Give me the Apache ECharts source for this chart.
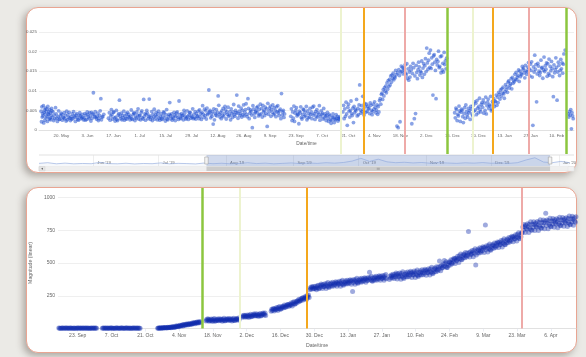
<!DOCTYPE html>
<html>
<head>
<meta charset="utf-8">
<script src="https://cdn.jsdelivr.net/npm/echarts@6/dist/echarts.min.js"></script>
<style>
  html, body { margin: 0; padding: 0; width: 586px; height: 357px; overflow: hidden; background: #ebeae6; }
  .card { position: absolute; left: 26px; width: 551px; height: 166px; box-sizing: border-box;
          background: #fff; border: 1.5px solid #e9a592; border-radius: 12px;
          box-shadow: -3px 3px 7px rgba(60, 50, 40, 0.35); }
  #chart { position: absolute; left: 0; top: 0; width: 586px; height: 357px; }
</style>
</head>
<body>
<div class="card" style="top:7px"></div>
<div class="card" style="top:187px"></div>
<div id="chart"></div>
<script>
const DAY = 86400000;
const MON = ["Jan", "Feb", "Mar", "Apr", "May", "Jun", "Jul", "Aug", "Sep", "Oct", "Nov", "Dec"];
const ts = (s) => Date.parse(s + (s.length === 10 ? "T00:00:00Z" : "Z"));

// ---- top panel: readings per day (x 0.001), each month array starts on the given day
const topMay = [ // from 9 May 2019
  [4.8,2.1,5.9,3.3,4.2],[3.6,6.2,1.8,4.5,5.1],[2.5,4.0,5.6,3.1,4.7],[5.3,3.4,2.2,6.0,4.1],[3.9,4.6,2.8,5.2,3.0],[4.4,2.6,3.7,5.5,4.9],
  [3.2,4.6,2.4],[3.8,2.9,5.7],[4.1,3.0,2.2],[3.5,4.9,2.7],[2.8,3.6,4.3],[4.0,2.5,3.3],[3.1,4.4,2.9],[3.7,2.3,4.8],[2.6,3.9,3.2],
  [4.5,3.0,2.4],[3.4,2.8,4.1],[2.9,4.7,3.6],[3.3,2.2,3.8],[4.2,3.1,2.7],[2.5,3.7,4.4],[3.6,2.9,3.1],[4.0,3.3,2.6]
];
const topJun = [
  [3.1,4.2,2.5],[3.8,2.7,4.6],[3.9,3.3,2.9],[4.4,3.6,2.3],[4.5,3.0,4.1],[9.5,3.9,3.4],[4.7,3.2,2.8],[3.5,4.3,2.4],[2.9,3.7,4.9],[8.0,2.6,3.3],
  [3.4,4.0],[],[],[3.0,4.4],[2.5,3.6,5.2],[3.9,2.8,4.5],[4.6,3.1,2.3],[3.3,5.0,2.7],[2.4,3.8,4.2],[7.6,3.5,2.9],
  [4.3,2.6,3.7],[3.1,4.8,2.5],[3.6,2.9,4.1],[2.8,4.5,3.4],[4.0,3.2,2.6],[3.5,5.1,2.9],[2.7,3.9,4.4],[4.2,2.4,3.3],[3.0,4.6,3.8],[5.4,2.8,3.6]
];
const topJul = [
  [3.7,2.6,4.4],[4.9,3.1,2.8],[7.8,3.5,4.2],[2.5,3.9,5.0],[4.3,2.9,3.4],[7.9,3.6,2.7],[3.2,4.7,2.4],[4.0,3.3,5.3],[2.8,3.8,4.5],[3.5,2.6,4.1],
  [4.8,3.0,2.5],[3.4,4.2,2.9],[2.7,3.6,4.6],[4.4,3.1,2.3],[3.9,5.2,2.8],[2.6,3.4,4.0],[7.0,3.7,2.9],[4.1,2.5,3.3],[3.0,4.5,3.8],[2.4,3.5,4.3],
  [4.6,3.2,2.7],[7.4,3.9,3.1],[2.9,4.2,3.6],[3.7,2.6,5.0],[4.3,3.4,2.8],[3.1,4.9,3.5],[2.7,3.8,4.4],[4.5,3.0,3.6],[3.3,5.4,2.9],[4.0,3.1,4.7],[2.8,4.2,3.5]
];
const topAug = [
  [3.6,4.8,2.9],[5.1,3.4,4.2],[2.7,4.5,6.2],[4.0,3.2,5.3],[3.7,4.9,2.8],[5.6,3.9,4.3],[10.2,4.6,5.0],[3.1,4.1,3.5],[4.7,1.5,5.4],[2.6,4.3,3.8],
  [5.2,3.6,4.5],[8.7,6.3,4.0],[3.3,4.4,2.9],[4.9,3.7,5.5],[3.4,4.2,6.0],[5.1,2.8,4.6],[4.0,5.8,3.5],[3.8,4.7,2.6],[5.4,4.1,3.2],[4.6,6.5,3.9],
  [3.5,5.0,4.4],[8.9,4.3,3.0],[6.1,4.8,3.7],[4.2,5.6,3.3],[5.0,3.9,6.4],[3.6,4.5,5.2],[6.7,4.0,3.4],[8.0,5.5,2.9],[4.3,5.1,4.7],[3.8,0.6,6.2],[5.3,4.1,3.2]
];
const topSep = [
  [4.6,4.9,5.7],[4.4,6.0,3.6],[5.2,3.9,6.6],[4.1,5.5,3.3],[6.3,4.6,5.0],[3.7,5.8,4.3],[5.4,0.9,6.8],[4.0,4.8,5.6],[6.1,3.5,5.2],[4.5,6.4,3.9],
  [5.7,4.2,5.0],[3.4,5.9,4.7],[6.2,4.4,3.7],[4.9,5.3,2.9],[9.3,3.8,4.6],[5.0,3.2,4.1],[],[],[],[3.5,5.4,2.4],
  [4.6,3.0,6.1],[2.2,4.3,5.0],[5.7,3.6,4.1],[3.9,1.6,4.8],[4.4,5.9,3.2],[2.8,4.0,5.3],[5.1,3.4,4.5],[3.7,6.0,2.6],[4.9,3.1,4.2],[3.3,5.5,4.0]
];
const topOct = [
  [4.6,2.9,5.8],[3.8,6.1,4.2],[2.7,4.7,3.5],[5.2,3.3,4.4],[4.0,6.2,2.5],[3.4,4.9,3.9],[4.3,2.8,5.5],[3.1,4.1,3.6],[2.4,3.7,4.5],[3.0,2.2,4.0],
  [3.6,2.6,1.7],[2.5,3.3,4.1],[3.2,1.9,2.8],[2.6,3.9,3.0],[3.5,2.3,2.9],[2.7,3.4,3.1],[],[4.6,6.3,2.9],[5.4,3.5,7.1],[4.1,1.2,5.8],
  [6.6,4.8,3.3],[5.0,7.4,4.2],[3.7,5.6,1.9],[6.0,4.4,5.2],[4.9,7.8,3.6],[5.5,3.9,6.4],[11.5,5.1,4.3],[6.2,4.7,8.6],[5.3,3.8,6.8],[5.9,4.5,6.6],[4.8,6.1,5.4]
];
const topNov = [
  [5.6,4.2,6.9],[6.3,5.0,3.9],[4.7,6.6,5.3],[7.2,5.8,4.4],[5.1,6.4,4.0],[6.0,4.6,7.5],[8.0,6.6,9.1],[9.4,7.8,10.3],[8.7,10.8,9.9],[11.2,9.5,12.0],
  [10.4,12.6,11.1],[12.9,11.5,13.8],[12.2,14.0,13.1],[14.5,12.8,13.6],[13.3,15.2,14.1],[1.0,14.6,0.6],[15.4,13.9,2.1],[14.8,16.3,15.0],[16.0,14.3,15.7],[15.2,16.6,14.5],
  [14.1,16.9,13.2],[15.6,12.7,14.8],[13.5,16.2,15.3],[1.6,14.4,17.0],[15.9,2.9,13.8],[4.2,16.5,14.7],[13.1,15.4,17.3],[16.1,14.0,15.0],[14.6,17.6,13.4],[15.8,16.9,14.2]
];
const topDec = [
  [16.4,18.2,14.9],[20.9,17.1,15.5],[17.8,19.6,16.0],[20.4,15.7,18.4],[16.8,8.9,18.9],[19.2,17.3,15.2],[8.0,18.0,16.6],[17.5,20.1,15.9],[16.2,18.7,14.6],[18.9,15.3,17.0],
  [14.8,19.8,16.7],[17.6,15.6,18.3],[],[],[],[],[4.4,3.1,5.6],[5.2,2.4,4.0],[3.6,6.1,4.8],[2.2,4.5,5.3],
  [5.0,3.4,1.9],[4.2,5.7,3.0],[6.4,4.7,3.9],[3.3,5.5,4.4],[4.9,2.7,6.0],[5.4,4.1,3.6],[6.3,4.8,7.2],[5.1,6.8,3.9],[7.5,5.6,4.4],[6.0,8.1,5.2],[4.6,6.5,7.0]
];
const topJan = [
  [5.8,7.7,4.3],[6.9,5.0,8.4],[4.1,6.2,7.1],[7.9,5.5,6.4],[6.1,8.6,4.9],[5.3,7.3,6.7],[8.0,6.0,7.4],[7.2,8.9,6.3],[8.4,7.0,9.6],[9.1,7.9,10.2],
  [8.6,10.5,9.4],[10.9,9.2,8.1],[9.8,11.6,10.3],[11.0,9.6,12.2],[12.5,10.7,11.4],[11.8,13.1,10.5],[13.4,11.9,12.6],[12.3,14.2,13.0],[14.7,12.8,13.5],[13.9,15.3,12.4],
  [15.0,13.6,14.4],[14.1,16.2,15.4],[15.8,14.6,13.3],[16.5,15.1,14.2],[14.9,16.0,17.2],[15.6,13.8,16.8],[15.2,17.4,13.5],[1.2,16.1,14.8],[19.1,15.5,16.7],[7.2,14.3,17.0],[16.3,15.0,13.9]
];
const topFeb = [
  [14.7,17.8,15.8],[16.0,13.2,15.3],[18.6,14.9,16.4],[15.5,17.1,13.7],[16.9,14.4,18.1],[14.0,16.2,15.1],[17.5,15.7,13.6],[8.5,16.6,14.6],[15.4,18.4,16.0],[7.6,14.8,17.3],
  [16.5,13.9,15.2],[18.0,15.6,17.1],[14.5,16.8,19.4],[20.4],[],[4.1,3.3,4.7],[3.8,5.2,0.3],[4.4,3.6,2.9]
];
const topBlocks = [
  ["2019-05-09", topMay], ["2019-06-01", topJun], ["2019-07-01", topJul], ["2019-08-01", topAug],
  ["2019-09-01", topSep], ["2019-10-01", topOct], ["2019-11-01", topNov], ["2019-12-01", topDec],
  ["2020-01-01", topJan], ["2020-02-01", topFeb]
];
const topTicks = ["2019-05-20","2019-06-03","2019-06-17","2019-07-01","2019-07-15","2019-07-29","2019-08-12",
  "2019-08-26","2019-09-09","2019-09-23","2019-10-07","2019-10-21","2019-11-04","2019-11-18","2019-12-02",
  "2019-12-16","2019-12-30","2020-01-13","2020-01-27","2020-02-10"];
const topRange = ["2019-05-07T23:00", "2020-02-19T06:00"];
const topLineDates = ["2019-10-17T00:00","2019-10-29T12:00","2019-11-20T08:00","2019-12-13T08:00",
  "2019-12-26T20:00","2020-01-06T20:00","2020-01-26T05:00","2020-02-14T20:00"];
const topLineKinds = ["light","orange","pink","green","light","orange","pink","green"];

// ---- navigator
const navStart = "2019-05-07";
const navVals = [0.24,0.3,0.2,0.26,0.2,0.23,0.21,0.33,0.22,0.2,
  0.25,0.19,0.23,0.21,0.28,0.2,0.24,0.22,0.19,0.27,
  0.21,0.25,0.2,0.23,0.3,0.22,0.26,0.2,0.24,0.28,
  0.22,0.27,0.24,0.3,0.26,0.32,0.45,0.7,0.42,0.62,
  0.38,0.3,0.34,0.28,0.32,0.25,0.3,0.27,0.24,0.29,
  0.26,0.31,0.25,0.28,0.24,0.3,0.55,0.75,0.36,0.3,
  0.42,0.3];
const navRange = ["2019-05-07", "2020-01-08"];
const navWindow = ["2019-07-23", "2019-12-28"];
const navMonths = ["2019-06-01","2019-07-01","2019-08-01","2019-09-01","2019-10-01","2019-11-01","2019-12-01","2020-01-01"];

// ---- bottom panel: readings per day (linear magnitude)
const botSep = [ // from 15 Sep 2019
  [3,1,2],[2,4,3],[1,2,3],[3,2,4],[2,1,3],[4,2,2],[1,3,2],[2,2,4],[3,1,3],[2,3,1],[4,2,3],[1,3,2],[3,2,1],[2,4,2],[3,1,4],[2,3,2]
];
const botOct = [
  [],[],[2,3,1],[3,2,4],[1,3,2],[2,4,3],[3,1,2],[2,2,4],[4,3,1],[1,2,3],[3,4,2],[2,1,3],[3,3,1],[2,4,2],[1,2,4],[3,2,3],[2,3,1],[4,1,2],
  [],[],[],[],[],[],[],[2,4,1,3],[3,5,2,4],[4,7,3,5],[5,8,4,6],[6,10,5,8],[8,12,6,10]
];
const botNov = [
  [9,15,12,7],[14,10,19,13],[16,21,13,18],[19,25,17,22],[22,28,20,30],[27,23,33,29],[30,36,27,33],[33,39,30,37],[37,32,43,39],[40,46,37,43],
  [43,49,40,47],[46,53,43,50],[],[],[58,69,62,74],[66,55,71,61],[60,73,64,54],[70,62,77,58],[57,68,61,72],[65,59,74,67],
  [61,72,66,56],[71,63,78,60],[59,70,64,75],[68,61,77,66],[63,74,67,58],[72,64,79,62],[61,73,68,77],[70,63,80,67],[],[85,97,90,102]
];
const botDec = [
  [96,86,101,92],[90,103,95,84],[101,93,108,89],[91,104,97,110],[103,95,112,99],[98,110,102,92],[108,99,115,96],[100,113,106,119],[111,103,118,100],[],
  [],[131,146,137,151],[149,134,153,143],[145,160,151,137],[162,151,167,147],[148,163,154,169],[168,158,179,165],[163,178,169,183],[182,167,186,176],[180,195,186,172],
  [200,189,205,185],[189,204,195,210],[212,202,223,209],[210,225,216,230],[232,217,236,226],[231,246,237,223],[251,240,256,236],
  [296,311,302,318],[314,301,320,306],[305,322,309,296],[325,312,331,304]
];
const botJan = [
  [307,330,317,339],[330,305,336,321],[319,342,329,305],[341,324,351,318],[313,337,324,347],[339,323,353,335],[325,348,335,357],[348,323,354,339],
  [337,360,347,323],[358,341,368,335],[330,354,341,364],[355,339,369,351],[341,364,351,373],[363,338,369,282],[352,375,362,338],[373,356,383,350],
  [345,369,356,379],[370,354,384,366],[356,379,366,388],[378,353,384,369],[367,390,377,430],[388,371,398,365],[360,384,371,394],[385,369,399,381],
  [371,394,381,403],[393,368,399,384],[382,405,392,368],[403,386,413,380],[],[375,399,386,409],[401,385,415,397]
];
const botFeb = [
  [382,412,395,424],[410,377,417,398],[394,424,407,376],[420,398,433,390],[382,413,396,426],[414,393,432,408],[395,425,408,437],[423,390,430,411],
  [408,438,421,390],[434,412,447,404],[397,428,411,441],[430,409,448,424],[411,441,424,453],[440,407,447,428],[426,456,439,408],[454,432,467,424],
  [418,449,432,462],[454,433,472,448],[439,469,452,515],[473,440,480,461],[463,493,476,520],[496,474,509,466],[466,497,480,510],[506,485,524,500],
  [494,524,507,536],[530,497,537,518],[522,552,535,504],[556,534,569,526],[525,556,539,569]
];
const botMar = [
  [562,541,580,556],[546,576,559,740],[578,545,585,566],[566,596,579,548],[596,574,609,484],[562,593,576,606],[598,577,616,592],[582,612,595,624],
  [614,581,621,790],[602,632,615,584],[632,610,645,602],[598,629,612,642],[634,613,652,628],[619,649,632,661],[652,619,659,640],[641,671,654,623],
  [672,650,685,642],[639,670,653,683],[676,655,694,670],[662,692,675,704],[696,663,703,684],[686,716,699,668],[718,696,731,688],[686,717,700,730],
  [730,775,752,794],[778,732,790,763],[757,800,776,732],[795,765,814,752],[750,795,772,814],[794,748,806,779],[773,816,792,748]
];
const botApr = [
  [811,781,830,768],[765,810,787,829],[808,762,820,880],[786,829,805,761],[823,793,842,780],[776,821,798,840],[818,772,830,803],[795,838,814,770],
  [831,801,850,788],[784,829,806,848],[826,780,838,811],[803,846,822,778],[839,809,858,796],[792,837,814,856],[834,788,846,819],[811,854,830,786]
];
const botBlocks = [
  ["2019-09-15", botSep], ["2019-10-01", botOct], ["2019-11-01", botNov], ["2019-12-01", botDec],
  ["2020-01-01", botJan], ["2020-02-01", botFeb], ["2020-03-01", botMar], ["2020-04-01", botApr]
];
const botTicks = ["2019-09-23","2019-10-07","2019-10-21","2019-11-04","2019-11-18","2019-12-02","2019-12-16",
  "2019-12-30","2020-01-13","2020-01-27","2020-02-10","2020-02-24","2020-03-09","2020-03-23","2020-04-06"];
const botRange = ["2019-09-14T20:00", "2020-04-16T10:00"];
const botLineDates = ["2019-11-13T12:00","2019-11-29T05:00","2019-12-26T22:00","2020-03-24T22:00"];
const botLineKinds = ["green","light","orange","pink"];

// ---- styles
const lineStyles = {
  light:  { color: "#edf3cf", width: 2 },
  orange: { color: "#f4a81d", width: 2 },
  pink:   { color: "#eeaaa8", width: 2 },
  green:  { color: "#8cc63f", width: 2.5 }
};
const FONT = "Liberation Sans";
const labelCol = "#666";

function spreadDays(blocks, scale) {
  const pts = [];
  blocks.forEach(([start, days]) => {
    const t0 = ts(start);
    days.forEach((vals, i) => {
      vals.forEach((v, k) => pts.push([t0 + (i + (k + 0.5) / vals.length) * DAY, v * scale]));
    });
  });
  return pts;
}
const dayLabel = (v) => { const d = new Date(v); return d.getUTCDate() + ". " + MON[d.getUTCMonth()]; };
const monLabel = (v) => { const d = new Date(v); return MON[d.getUTCMonth()] + " '" + String(d.getUTCFullYear()).slice(2); };
const plotLines = (dates, kinds) => dates.map((t, i) => ({ xAxis: ts(t), lineStyle: Object.assign({ type: "solid" }, lineStyles[kinds[i]]) }));

const topData = spreadDays(topBlocks, 0.001);
const botData = spreadDays(botBlocks, 1);
const navData = navVals.map((v, i) => [ts(navStart) + i * 4 * DAY, v]);

const chart = echarts.init(document.getElementById("chart"));

const hiddenX = (range, gi) => ({ type: "value", gridIndex: gi, min: ts(range[0]), max: ts(range[1]), show: false });
const hiddenY = (gi) => ({ type: "value", gridIndex: gi, min: 0, max: 1, show: false });

chart.setOption({
  backgroundColor: "transparent",
  animation: false,
  textStyle: { fontFamily: FONT },
  grid: [
    { left: 39, top: 32, width: 535, height: 98 },   // top scatter
    { left: 39, top: 8, width: 535, height: 146 },   // top plot lines
    { left: 39, top: 155, width: 535, height: 11 },  // navigator
    { left: 58, top: 197.5, width: 518, height: 131 }, // bottom scatter
    { left: 58, top: 188, width: 518, height: 140.5 }  // bottom plot lines
  ],
  xAxis: [
    { type: "value", gridIndex: 0, min: ts(topRange[0]), max: ts(topRange[1]),
      name: "Date/time", nameLocation: "middle", nameGap: 11,
      nameTextStyle: { fontSize: 4.8, color: labelCol },
      axisLine: { lineStyle: { color: "#dedede", width: 0.8 } },
      axisTick: { show: false }, splitLine: { show: false },
      axisLabel: { customValues: topTicks.map(ts), formatter: dayLabel, fontSize: 4.4, color: labelCol, margin: 4 } },
    hiddenX(topRange, 1),
    { type: "value", gridIndex: 2, min: ts(navRange[0]), max: ts(navRange[1]),
      axisLine: { show: false }, splitLine: { show: false },
      axisTick: { show: true, inside: true, length: 11, customValues: navMonths.map(ts), lineStyle: { color: "#e3e3e3", width: 0.6 } },
      axisLabel: { inside: true, customValues: navMonths.map(ts), formatter: monLabel, align: "left",
                   padding: [0, 0, 0, 4], margin: 1.5, fontSize: 4.2, color: "#777" } },
    { type: "value", gridIndex: 3, min: ts(botRange[0]), max: ts(botRange[1]),
      name: "Date/time", nameLocation: "middle", nameGap: 15,
      nameTextStyle: { fontSize: 5.2, color: labelCol },
      axisLine: { lineStyle: { color: "#dedede", width: 0.8 } },
      axisTick: { show: true, length: 3, customValues: botTicks.map(ts), lineStyle: { color: "#dde3ee", width: 0.6 } },
      splitLine: { show: false },
      axisLabel: { customValues: botTicks.map(ts), formatter: dayLabel, fontSize: 5, color: labelCol, margin: 5 } },
    hiddenX(botRange, 4)
  ],
  yAxis: [
    { type: "value", gridIndex: 0, min: 0, max: 0.025, interval: 0.005,
      axisLine: { show: false }, axisTick: { show: false },
      splitLine: { lineStyle: { color: "#ebebeb", width: 0.8 } },
      axisLabel: { fontSize: 4.4, color: labelCol, margin: 2, formatter: (v) => String(+v.toFixed(3)) } },
    hiddenY(1),
    hiddenY(2),
    { type: "value", gridIndex: 3, min: 0, max: 1000, interval: 250,
      name: "Magnitude (linear)", nameLocation: "middle", nameRotate: 90, nameGap: 13,
      nameTextStyle: { fontSize: 5.2, color: labelCol },
      axisLine: { show: false }, axisTick: { show: false },
      splitLine: { lineStyle: { color: "#ebebeb", width: 0.8 } },
      axisLabel: { fontSize: 5, color: labelCol, margin: 3, showMinLabel: false, formatter: (v) => String(v) } },
    hiddenY(4)
  ],
  series: [
    { type: "scatter", xAxisIndex: 0, yAxisIndex: 0, data: topData, symbolSize: 3.8,
      itemStyle: { color: "rgba(30, 78, 208, 0.65)" }, silent: true },
    { type: "line", xAxisIndex: 1, yAxisIndex: 1, data: [], z: 5,
      markLine: { symbol: ["none", "none"], silent: true, label: { show: false }, animation: false,
                  data: plotLines(topLineDates, topLineKinds) } },
    { type: "line", xAxisIndex: 2, yAxisIndex: 2, data: navData, showSymbol: false, silent: true,
      lineStyle: { color: "#8aa5dc", width: 0.6 }, areaStyle: { color: "rgba(51, 92, 173, 0.06)" },
      markArea: { silent: true, itemStyle: { color: "rgba(102, 133, 194, 0.3)" },
                  data: [[{ xAxis: ts(navWindow[0]) }, { xAxis: ts(navWindow[1]) }]] },
      markPoint: { silent: true, symbol: "rect", symbolSize: [3.5, 7], label: { show: false },
                   itemStyle: { color: "#f2f2f2", borderColor: "#999", borderWidth: 0.5 },
                   data: navWindow.map((t) => ({ coord: [ts(t), 0.5] })) } },
    { type: "scatter", xAxisIndex: 3, yAxisIndex: 3, data: botData, symbolSize: 5,
      itemStyle: { color: "rgba(16, 42, 172, 0.5)" }, silent: true },
    { type: "line", xAxisIndex: 4, yAxisIndex: 4, data: [], z: 5,
      markLine: { symbol: ["none", "none"], silent: true, label: { show: false }, animation: false,
                  data: plotLines(botLineDates, botLineKinds) } }
  ]
});

// navigator outline and scrollbar, placed from the navigator axis
const navX = (t) => chart.convertToPixel({ xAxisIndex: 2 }, ts(t));
const nx0 = 39, nx1 = 574, sbTop = 166.5, sbH = 4.5;
const w0 = navX(navWindow[0]), w1 = navX(navWindow[1]);
const mid = (w0 + w1) / 2;
chart.setOption({
  graphic: [
    { type: "line", shape: { x1: nx0, y1: 155, x2: nx1, y2: 155 }, style: { stroke: "#cfcfcf", lineWidth: 0.6 }, silent: true },
    { type: "rect", shape: { x: nx0, y: sbTop, width: nx1 - nx0, height: sbH }, style: { fill: "#efefef", stroke: "#e2e2e2", lineWidth: 0.5 }, silent: true },
    { type: "rect", shape: { x: w0, y: sbTop, width: w1 - w0, height: sbH }, style: { fill: "#cbcbcb" }, silent: true },
    { type: "rect", shape: { x: nx0, y: sbTop, width: 6, height: sbH }, style: { fill: "#e4e4e4", stroke: "#d0d0d0", lineWidth: 0.5 }, silent: true },
    { type: "polygon", shape: { points: [[nx0 + 4, sbTop + 1.2], [nx0 + 4, sbTop + 3.3], [nx0 + 2, sbTop + 2.25]] }, style: { fill: "#666" }, silent: true },
    { type: "rect", shape: { x: nx1 - 6, y: sbTop, width: 6, height: sbH }, style: { fill: "#f2f2f2", stroke: "#e0e0e0", lineWidth: 0.5 }, silent: true },
    { type: "line", shape: { x1: mid - 1, y1: sbTop + 1.2, x2: mid - 1, y2: sbTop + 3.3 }, style: { stroke: "#888", lineWidth: 0.5 }, silent: true },
    { type: "line", shape: { x1: mid, y1: sbTop + 1.2, x2: mid, y2: sbTop + 3.3 }, style: { stroke: "#888", lineWidth: 0.5 }, silent: true },
    { type: "line", shape: { x1: mid + 1, y1: sbTop + 1.2, x2: mid + 1, y2: sbTop + 3.3 }, style: { stroke: "#888", lineWidth: 0.5 }, silent: true }
  ]
});
</script>
</body>
</html>
